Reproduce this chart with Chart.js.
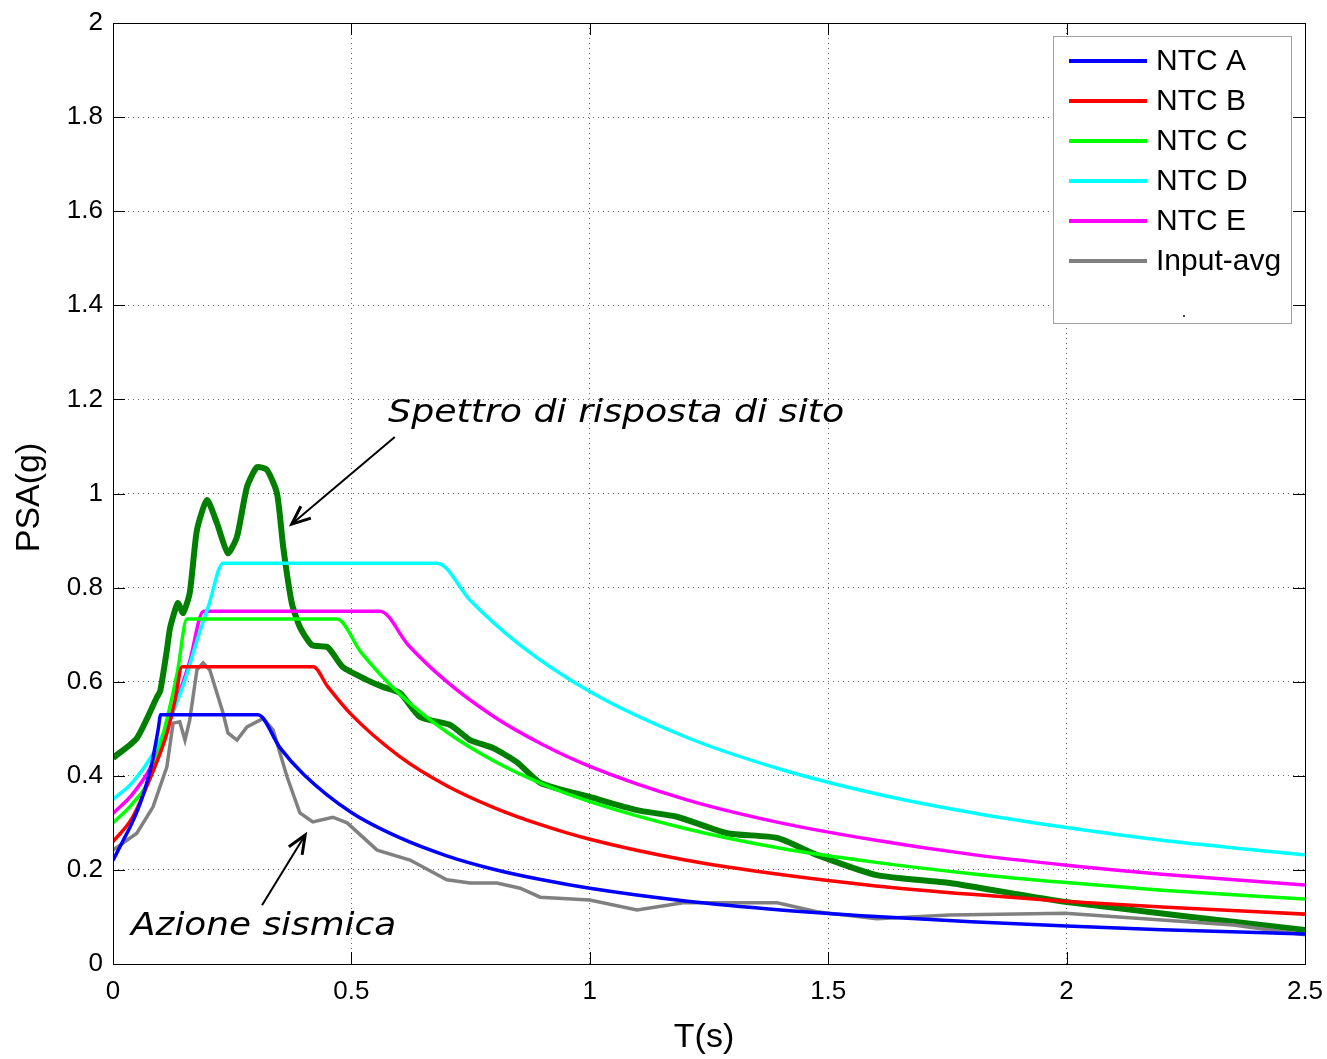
<!DOCTYPE html>
<html>
<head>
<meta charset="utf-8">
<script src="https://cdn.jsdelivr.net/npm/chart.js@4.4.1/dist/chart.umd.min.js"></script>
<style>
  html, body { margin: 0; padding: 0; background: #fff; }
  #wrap { width: 1327px; height: 1059px; }
</style>
</head>
<body>
<div id="wrap"><canvas id="Chart1" width="1327" height="1059"></canvas></div>
<script>
// SPETTRI NTC + SPETTRO DI RISPOSTA DI SITO

// axis ticks
const xTickLabels = ['0', '0.5', '1', '1.5', '2', '2.5'];
const yTickLabels = ['0', '0.2', '0.4', '0.6', '0.8', '1', '1.2', '1.4', '1.6', '1.8', '2'];

// NTC spectra (T in s, PSA in g)
const tA   = [0, 0.02, 0.04, 0.06, 0.08, 0.095, 0.1, 0.304, 0.35, 0.4, 0.5, 0.6, 0.7, 0.8, 0.9, 1.0, 1.2, 1.4, 1.6, 1.8, 2.0, 2.2, 2.5];
const psaA = [0.22, 0.26, 0.30, 0.35, 0.42, 0.50, 0.53, 0.53, 0.46, 0.403, 0.322, 0.269, 0.230, 0.201, 0.179, 0.161, 0.134, 0.115, 0.101, 0.090, 0.081, 0.073, 0.064];

const tB   = [0, 0.04, 0.08, 0.113, 0.13, 0.145, 0.42, 0.45, 0.5, 0.6, 0.7, 0.8, 0.9, 1.0, 1.2, 1.4, 1.6, 1.8, 2.0, 2.2, 2.5];
const psaB = [0.26, 0.31, 0.40, 0.49, 0.56, 0.632, 0.632, 0.59, 0.53, 0.442, 0.379, 0.332, 0.295, 0.265, 0.221, 0.190, 0.166, 0.148, 0.133, 0.121, 0.106];

const tC   = [0, 0.04, 0.08, 0.113, 0.135, 0.155, 0.47, 0.52, 0.6, 0.7, 0.8, 0.9, 1.0, 1.2, 1.4, 1.6, 1.8, 2.0, 2.2, 2.5];
const psaC = [0.30, 0.34, 0.40, 0.52, 0.62, 0.733, 0.733, 0.663, 0.575, 0.493, 0.431, 0.383, 0.345, 0.288, 0.246, 0.216, 0.192, 0.173, 0.157, 0.138];

const tD   = [0, 0.04, 0.08, 0.11, 0.15, 0.18, 0.2, 0.231, 0.68, 0.75, 0.85, 1.0, 1.2, 1.4, 1.6, 1.8, 2.0, 2.2, 2.5];
const psaD = [0.35, 0.385, 0.44, 0.50, 0.60, 0.70, 0.76, 0.852, 0.852, 0.772, 0.681, 0.579, 0.483, 0.414, 0.362, 0.322, 0.290, 0.263, 0.232];

const tE   = [0, 0.04, 0.08, 0.12, 0.16, 0.19, 0.56, 0.62, 0.7, 0.8, 0.9, 1.0, 1.2, 1.4, 1.6, 1.8, 2.0, 2.2, 2.5];
const psaE = [0.32, 0.36, 0.42, 0.52, 0.64, 0.75, 0.75, 0.677, 0.60, 0.525, 0.467, 0.42, 0.35, 0.30, 0.263, 0.233, 0.21, 0.191, 0.168];

// input average
const tAvg   = [0, 0.05, 0.084, 0.113, 0.126, 0.14, 0.151, 0.161, 0.176, 0.189, 0.203, 0.231, 0.241, 0.26, 0.281, 0.315, 0.336, 0.365, 0.392, 0.419, 0.461, 0.491, 0.554, 0.623, 0.7, 0.749, 0.805, 0.854, 0.896, 1.0, 1.099, 1.196, 1.266, 1.393, 1.476, 1.602, 1.755, 1.997, 2.35, 2.5];
const psaAvg = [0.242, 0.278, 0.334, 0.419, 0.512, 0.515, 0.476, 0.519, 0.625, 0.64, 0.625, 0.533, 0.491, 0.476, 0.504, 0.522, 0.497, 0.398, 0.321, 0.302, 0.312, 0.30, 0.242, 0.221, 0.179, 0.172, 0.172, 0.161, 0.142, 0.136, 0.115, 0.13, 0.13, 0.13, 0.111, 0.096, 0.104, 0.108, 0.083, 0.062];

// site response spectrum
const tSite   = [0, 0.05, 0.092, 0.099, 0.113, 0.12, 0.136, 0.147, 0.161, 0.176, 0.197, 0.218, 0.241, 0.26, 0.281, 0.302, 0.323, 0.344, 0.357, 0.375, 0.392, 0.417, 0.449, 0.461, 0.482, 0.532, 0.566, 0.602, 0.644, 0.707, 0.749, 0.797, 0.847, 0.896, 1.0, 1.099, 1.183, 1.288, 1.393, 1.476, 1.602, 1.755, 1.997, 2.5];
const psaSite = [0.438, 0.48, 0.567, 0.58, 0.667, 0.716, 0.767, 0.746, 0.789, 0.922, 0.986, 0.937, 0.873, 0.908, 1.014, 1.056, 1.05, 1.0, 0.886, 0.767, 0.716, 0.678, 0.674, 0.66, 0.631, 0.604, 0.589, 0.576, 0.525, 0.508, 0.476, 0.459, 0.429, 0.385, 0.355, 0.327, 0.313, 0.278, 0.268, 0.232, 0.189, 0.172, 0.132, 0.072];

function pts(t, v) { return t.map((x, i) => ({ x: x, y: v[i] })); }

const FONT = '"Liberation Sans", Arial, Helvetica, sans-serif';

// frame with inward ticks (matlab style)
const framePlugin = {
    id: 'frame',
    afterDraw(chart) {
        const c = chart.ctx, a = chart.chartArea;
        const xs = chart.scales.x, ys = chart.scales.y;
        c.save();
        c.strokeStyle = '#000';
        c.lineWidth = 1;
        c.beginPath();
        xs.ticks.forEach(t => {
            const px = Math.round(xs.getPixelForValue(t.value)) + 0.5;
            c.moveTo(px, a.bottom); c.lineTo(px, a.bottom - 12);
            c.moveTo(px, a.top); c.lineTo(px, a.top + 12);
        });
        ys.ticks.forEach(t => {
            const py = Math.round(ys.getPixelForValue(t.value)) + 0.5;
            c.moveTo(a.left, py); c.lineTo(a.left + 12, py);
            c.moveTo(a.right, py); c.lineTo(a.right - 12, py);
        });
        c.stroke();
        c.strokeRect(a.left + 0.5, a.top + 0.5, a.right - a.left, a.bottom - a.top);

        // axis titles
        c.fillStyle = '#000';
        c.font = '34px ' + FONT;
        c.textAlign = 'center';
        c.textBaseline = 'middle';
        c.fillText('T(s)', (a.left + a.right) / 2 - 5, 1038);
        c.translate(30, (a.top + a.bottom) / 2 + 4);
        c.rotate(-Math.PI / 2);
        c.fillText('PSA(g)', 0, 0);
        c.restore();
    }
};

// legend box in the upper right corner
const legendPlugin = {
    id: 'boxLegend',
    afterDraw(chart) {
        const c = chart.ctx;
        const items = chart.data.datasets.filter(d => d.inLegend);
        c.save();
        c.fillStyle = '#fff';
        c.fillRect(1054, 37, 238, 287);
        c.strokeStyle = '#a0a0a0';
        c.lineWidth = 1;
        c.strokeRect(1053.5, 36.5, 238, 287);
        c.font = '30px ' + FONT;
        c.textBaseline = 'middle';
        c.textAlign = 'left';
        items.forEach((d, i) => {
            const y = 61 + i * 40;
            c.strokeStyle = d.borderColor;
            c.lineWidth = 4;
            c.beginPath();
            c.moveTo(1069, y); c.lineTo(1147, y);
            c.stroke();
            c.fillStyle = '#000';
            c.fillText(d.label, 1156, y + 1);
        });
        c.fillStyle = '#444';
        c.fillRect(1183, 315, 2, 2);
        c.restore();
    }
};

// text annotations with arrows (w = width of the text in px)
const notes = [
    { text: 'Spettro di risposta di sito', tx: 0.577, ty: 1.152, w: 456, from: [0.591, 1.12], to: [0.375, 0.935] },
    { text: 'Azione sismica', tx: 0.038, ty: 0.062, w: 265, from: [0.3125, 0.125], to: [0.403, 0.274] }
];

const notePlugin = {
    id: 'notes',
    afterDraw(chart) {
        const c = chart.ctx, xs = chart.scales.x, ys = chart.scales.y;
        c.save();
        c.fillStyle = '#000';
        c.strokeStyle = '#000';
        c.font = 'italic 32px "DejaVu Sans", "Open Sans", sans-serif';
        c.textBaseline = 'alphabetic';
        c.textAlign = 'left';
        notes.forEach(n => {
            const px = xs.getPixelForValue(n.tx), py = ys.getPixelForValue(n.ty);
            const k = n.w / c.measureText(n.text).width;
            c.save();
            c.translate(px, py);
            c.scale(k, 1);
            c.fillText(n.text, 0, 0);
            c.restore();
            const x1 = xs.getPixelForValue(n.from[0]), y1 = ys.getPixelForValue(n.from[1]);
            const x2 = xs.getPixelForValue(n.to[0]), y2 = ys.getPixelForValue(n.to[1]);
            const ang = Math.atan2(y2 - y1, x2 - x1);
            c.lineWidth = 2;
            c.beginPath();
            c.moveTo(x1, y1); c.lineTo(x2, y2);
            c.stroke();
            c.lineWidth = 3;
            c.beginPath();
            c.moveTo(x2 - 20 * Math.cos(ang - 0.4), y2 - 20 * Math.sin(ang - 0.4));
            c.lineTo(x2, y2);
            c.lineTo(x2 - 20 * Math.cos(ang + 0.4), y2 - 20 * Math.sin(ang + 0.4));
            c.stroke();
        });
        c.restore();
    }
};

function ntc(label, t, v, color) {
    return {
        label: label,
        data: pts(t, v),
        borderColor: color,
        borderWidth: 3.5,
        pointRadius: 0,
        fill: false,
        cubicInterpolationMode: 'monotone',
        inLegend: true
    };
}

const ctx = document.getElementById('Chart1').getContext('2d');
const Chart1 = new Chart(ctx, {
    type: 'line',
    data: {
        datasets: [
            ntc('NTC A', tA, psaA, '#0000ff'),
            ntc('NTC B', tB, psaB, '#ff0000'),
            ntc('NTC C', tC, psaC, '#00ff00'),
            ntc('NTC D', tD, psaD, '#00ffff'),
            ntc('NTC E', tE, psaE, '#ff00ff'),
            {
                label: 'Input-avg',
                data: pts(tAvg, psaAvg),
                borderColor: '#808080',
                borderWidth: 3.5,
                pointRadius: 0,
                tension: 0,
                inLegend: true
            },
            {
                label: 'Sito',
                data: pts(tSite, psaSite),
                borderColor: '#007f00',
                borderWidth: 6,
                pointRadius: 0,
                tension: 0.2,
                borderJoinStyle: 'round',
                inLegend: false
            }
        ]
    },
    options: {
        responsive: false,
        animation: false,
        layout: { padding: { left: 0, right: 22, top: 23, bottom: 0 } },
        plugins: {
            legend: { display: false },
            tooltip: { enabled: false }
        },
        scales: {
            x: {
                type: 'linear',
                min: 0,
                max: 2.5,
                afterFit: (s) => { s.height = 95; s.paddingRight = 0; s.paddingLeft = 0; },
                ticks: {
                    stepSize: 0.5,
                    padding: 12,
                    color: '#000',
                    font: { family: FONT, size: 26 },
                    maxRotation: 0,
                    callback: (v, i) => xTickLabels[i]
                },
                grid: { color: 'rgba(0,0,0,0.6)', drawTicks: false, lineWidth: 1 },
                border: { display: false, dash: [1, 4] }
            },
            y: {
                min: 0,
                max: 2,
                afterFit: (s) => { s.width = 113; s.paddingTop = 0; s.paddingBottom = 0; },
                ticks: {
                    stepSize: 0.2,
                    padding: 10,
                    color: '#000',
                    font: { family: FONT, size: 26 },
                    callback: (v, i) => yTickLabels[i]
                },
                grid: { color: 'rgba(0,0,0,0.6)', drawTicks: false, lineWidth: 1 },
                border: { display: false, dash: [1, 4] }
            }
        }
    },
    plugins: [framePlugin, legendPlugin, notePlugin]
});
</script>
</body>
</html>
